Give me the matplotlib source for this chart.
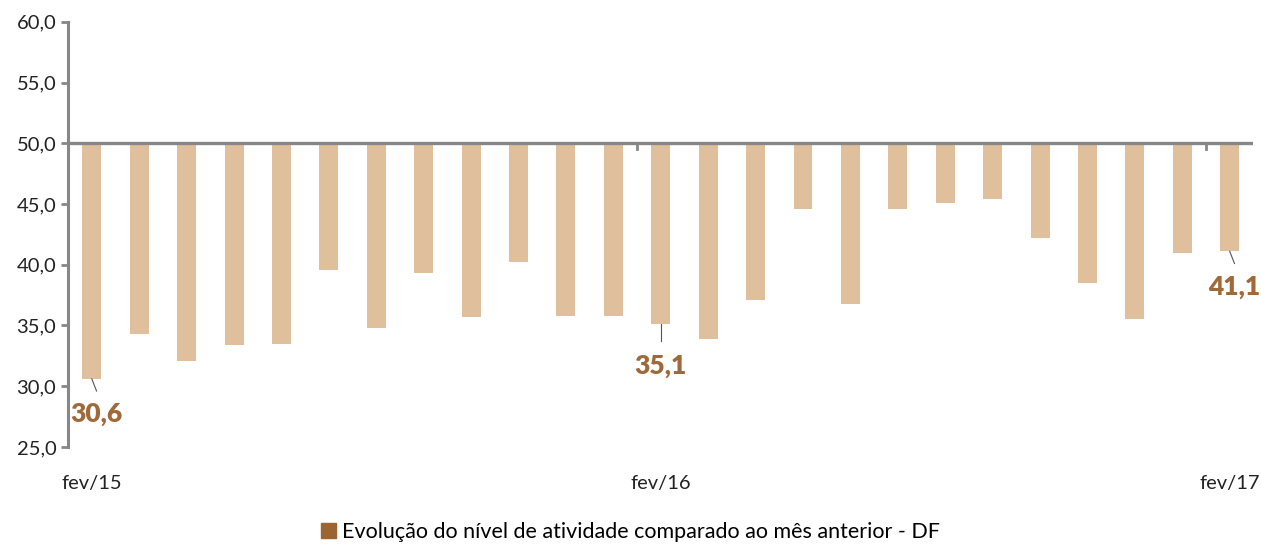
import matplotlib.pyplot as plt
import numpy as np
from matplotlib.patches import Patch

# Months fev/15 .. fev/17, activity index (50 = no change)
months = ['fev/15', 'mar/15', 'abr/15', 'mai/15', 'jun/15', 'jul/15', 'ago/15', 'set/15',
          'out/15', 'nov/15', 'dez/15', 'jan/16', 'fev/16', 'mar/16', 'abr/16', 'mai/16',
          'jun/16', 'jul/16', 'ago/16', 'set/16', 'out/16', 'nov/16', 'dez/16', 'jan/17', 'fev/17']
values = [30.6, 34.3, 32.1, 33.4, 33.5, 39.6, 34.8, 39.3, 35.7, 40.2, 35.8, 35.8, 35.1,
          33.9, 37.1, 44.6, 36.8, 44.6, 45.1, 45.4, 42.2, 38.5, 35.5, 41.0, 41.1]
labelled = [0, 12, 24]
legend_label = 'Evolução do nível de atividade comparado ao mês anterior - DF'

plt.rcParams['font.family'] = ['Lato', 'DejaVu Sans']
bar_color = '#E0BF9C'
text_brown = '#A0693A'
gray = '#878787'

fig = plt.figure(figsize=(12.61, 5.45), dpi=100)
ax = fig.add_axes([0.054, 0.18, 0.94, 0.78])

x = np.arange(len(values))
base = 50.0
ax.bar(x, np.array(values) - base, bottom=base, width=0.4, color=bar_color, zorder=2)

ax.set_xlim(-0.5, len(values) - 0.5)
ax.set_ylim(25, 60)
ax.set_yticks(np.arange(25, 61, 5))
ax.set_yticklabels([f'{v:.1f}'.replace('.', ',') for v in np.arange(25, 61, 5)], fontsize=14.5, color='#222222')

# spines: left axis and horizontal axis at 50
for s in ['top', 'right', 'bottom']:
    ax.spines[s].set_visible(False)
ax.spines['left'].set_color(gray)
ax.spines['left'].set_linewidth(2.2)
ax.axhline(base, color=gray, lw=2.4, zorder=3)
ax.tick_params(axis='y', color=gray, width=2, length=5, direction='out')

# small tick marks on the 50 line every 12 months
for t in [11.5, 23.5]:
    ax.plot([t, t], [base, base - 0.5], color=gray, lw=2, zorder=3)

ax.set_xticks(labelled)
ax.set_xticklabels([months[i] for i in labelled], fontsize=14.5, color='#222222')
ax.tick_params(axis='x', length=0, pad=20)

# value callouts
offsets = {0: (0.1, -2.9), 12: (0.0, -3.4), 24: (0.1, -2.9)}
for i in labelled:
    dx, dy = offsets[i]
    v = values[i]
    ax.plot([x[i], x[i] + dx], [v, v - 1.0 if i != 12 else v - 1.4], color='#555555', lw=0.8, zorder=3)
    ax.text(x[i] + dx, v + dy, f'{v:.1f}'.replace('.', ','), ha='center', va='center',
            fontsize=19, fontweight='heavy', color=text_brown)

fig.legend(handles=[Patch(color='#9C6430')], labels=[legend_label], loc='lower center',
           bbox_to_anchor=(0.5, -0.03), frameon=False, fontsize=15.5,
           handlelength=0.7, handleheight=0.7, handletextpad=0.3)

fig.savefig('out.png', dpi=100)
